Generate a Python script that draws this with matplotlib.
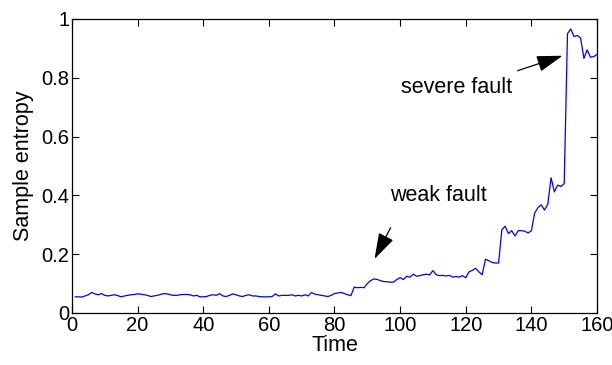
import matplotlib
matplotlib.use("Agg")
import matplotlib.pyplot as plt
import numpy as np

plt.rcParams['font.family'] = ['Liberation Sans', 'DejaVu Sans']

time = np.arange(1, 161)
entropy = [
    0.055, 0.055, 0.054, 0.058, 0.062, 0.070, 0.065, 0.062, 0.066, 0.060,
    0.058, 0.060, 0.062, 0.059, 0.055, 0.058, 0.060, 0.062, 0.063, 0.065,
    0.064, 0.062, 0.060, 0.056, 0.058, 0.060, 0.063, 0.066, 0.065, 0.062,
    0.060, 0.060, 0.062, 0.063, 0.063, 0.062, 0.058, 0.060, 0.055, 0.055,
    0.056, 0.060, 0.062, 0.060, 0.066, 0.058, 0.056, 0.060, 0.065, 0.062,
    0.058, 0.056, 0.060, 0.062, 0.058, 0.058, 0.056, 0.055, 0.055, 0.055,
    0.056, 0.065, 0.058, 0.060, 0.060, 0.060, 0.062, 0.058, 0.060, 0.058,
    0.062, 0.058, 0.070, 0.064, 0.062, 0.060, 0.058, 0.056, 0.060, 0.066,
    0.068, 0.070, 0.066, 0.062, 0.059, 0.088, 0.086, 0.087, 0.086, 0.100,
    0.110, 0.116, 0.114, 0.110, 0.107, 0.106, 0.105, 0.105, 0.114, 0.120,
    0.114, 0.125, 0.122, 0.132, 0.125, 0.127, 0.130, 0.132, 0.130, 0.144,
    0.130, 0.127, 0.128, 0.126, 0.128, 0.122, 0.124, 0.122, 0.127, 0.120,
    0.140, 0.145, 0.152, 0.140, 0.130, 0.183, 0.178, 0.172, 0.170, 0.170,
    0.283, 0.295, 0.270, 0.280, 0.262, 0.280, 0.280, 0.278, 0.272, 0.280,
    0.340, 0.358, 0.368, 0.350, 0.370, 0.460, 0.412, 0.435, 0.430, 0.440,
    0.950, 0.966, 0.940, 0.944, 0.935, 0.866, 0.895, 0.870, 0.872, 0.880,
]

x_ticks = [0, 20, 40, 60, 80, 100, 120, 140, 160]
y_ticks = [0, 0.2, 0.4, 0.6, 0.8, 1]
y_ticklabels = ['0', '0.2', '0.4', '0.6', '0.8', '1']

fig = plt.figure(figsize=(6.12, 3.65), dpi=100)
ax = fig.add_axes([0.1176, 0.1425, 0.8579, 0.8055])
ax.plot(time, entropy, color='#0000ff', lw=0.9)
ax.set_xlim(0, 160)
ax.set_ylim(0, 1)
ax.set_xticks(x_ticks)
ax.set_yticks(y_ticks)
ax.set_yticklabels(y_ticklabels)
ax.tick_params(direction='in', top=True, right=True, labelsize=14.5, length=5, width=0.8, pad=2)
for s in ax.spines.values():
    s.set_linewidth(0.9)
ax.set_xlabel('Time', fontsize=15.5, labelpad=0)
ax.set_ylabel('Sample entropy', fontsize=15.5, labelpad=5)

arrow = dict(arrowstyle='-|>,head_length=1.15,head_width=0.36', color='black', lw=0.9,
             mutation_scale=14, shrinkA=0, shrinkB=0)
ax.annotate('', xy=(92.2, 0.184), xytext=(97.1, 0.29), arrowprops=arrow)
ax.text(97, 0.40, 'weak fault', fontsize=15.5, ha='left', va='center')
ax.annotate('', xy=(149.5, 0.875), xytext=(135.8, 0.824), arrowprops=arrow)
ax.text(100.2, 0.768, 'severe fault', fontsize=15.5, ha='left', va='center')

fig.savefig('out.png', dpi=100)
